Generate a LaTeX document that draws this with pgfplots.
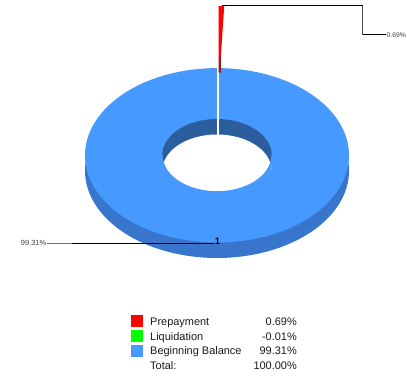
\documentclass[border=0pt]{standalone}
\usepackage{pgfplots}
\pgfplotsset{compat=1.18}
\usepackage{pgfplotstable}
\usepackage{fontspec}
\setmainfont{Liberation Sans}
\definecolor{topblue}{HTML}{4599FF}
\definecolor{sideblue}{HTML}{3776CC}
\definecolor{innerblue}{HTML}{2C5E9E}
\definecolor{darkred}{HTML}{A01414}
\definecolor{lbl}{HTML}{404040}
\definecolor{txt}{HTML}{1A1A1A}

\pgfplotstableread{
label value
Prepayment 0.69
Liquidation -0.01
{Beginning Balance} 99.31
}\piedata
\pgfplotstablegetelem{0}{value}\of\piedata
\pgfmathsetmacro\redA{3.6*\pgfplotsretval}

\def\cx{217}
\def\cy{155.3}
\def\Ro{132}
\def\Ryo{87.2}
\def\ri{54.7}
\def\ryi{36.3}
\def\dd{15.5}

\begin{document}
\begin{tikzpicture}
\begin{axis}[scale only axis, width=407bp, height=376bp,
  xmin=0, xmax=407, ymin=0, ymax=376, y dir=reverse,
  hide axis, clip=false, variable=\t]
% outer side wall
\addplot[draw=none, fill=sideblue, domain=0:360, samples=181]
  ({\cx+\Ro*sin(\t)},{\cy+\dd-\Ryo*cos(\t)});
% top face
\addplot[draw=none, fill=topblue, domain=0:360, samples=181]
  ({\cx+\Ro*sin(\t)},{\cy-\Ryo*cos(\t)});
% inner wall
\addplot[draw=none, fill=innerblue, domain=0:360, samples=181]
  ({\cx+\ri*sin(\t)},{\cy-\ryi*cos(\t)});
% see-through hole
\addplot[draw=none, fill=white, domain=0:360, samples=181]
  ({\cx+\ri*sin(\t)},{\cy+\dd-\ryi*cos(\t)});
% crescent of top face below the hole
\addplot[draw=topblue, line width=0.8bp, fill=topblue, domain=0:2, samples=201]
  ({\cx+\ri*sin(\t<=1 ? 90+180*\t : 450-180*\t)},
   {(\t<=1 ? \cy : \cy+\dd)-\ryi*cos(\t<=1 ? 90+180*\t : 450-180*\t)});
% separator
\addplot[white, line width=2.3bp] coordinates {(218,68)(218,134.5)};
% exploded red slice: inner wall
\addplot[draw=none, fill=darkred, domain=0:2, samples=41]
  ({\cx+1.5+\ri*sin(\t<=1 ? \redA*\t : \redA*(2-\t))},
   {(\t<=1 ? \cy-62 : \cy-62+\dd)-\ryi*cos(\t<=1 ? \redA*\t : \redA*(2-\t))});
% exploded red slice: top face
\addplot[draw=none, fill=red, domain=0:2, samples=41]
  ({\cx+1.5+(\t<=1 ? \Ro : \ri)*sin(\t<=1 ? \redA*\t : \redA*(2-\t))},
   {\cy-62-(\t<=1 ? \Ryo : \ryi)*cos(\t<=1 ? \redA*\t : \redA*(2-\t))});
% leader lines
\addplot[black, line width=1bp] coordinates {(221.5,6)(362.5,6)};
\addplot[black!70, line width=1bp] coordinates {(362.5,6)(362.5,35)};
\addplot[black, line width=1bp] coordinates {(362.5,35)(386,35)};
\addplot[black!55, line width=1bp] coordinates {(46.5,243)(72,243)};
\addplot[black, line width=1bp] coordinates {(72,243)(214,243)};
\node[anchor=base west, text=lbl, font=\fontsize{6.8}{9}\selectfont, inner sep=0pt] at (axis cs:386.5,37.4) {0.69\%};
\node[anchor=base east, text=lbl, font=\fontsize{7.5}{9}\selectfont, inner sep=0pt] at (axis cs:46.5,245.6) {99.31\%};
\node[anchor=base, font=\fontsize{9.5}{11}\bfseries, inner sep=0pt] at (axis cs:217.5,244) {1};
% legend
\addplot[only marks, mark=square*, mark size=5.5bp, red] coordinates {(136.5,321)};
\addplot[only marks, mark=square*, mark size=5.5bp, green] coordinates {(136.5,335.7)};
\addplot[only marks, mark=square*, mark size=5.5bp, topblue] coordinates {(136.5,350.4)};
\node[anchor=base west, text=txt, font=\fontsize{11}{13}\selectfont, inner sep=0pt] at (axis cs:150,325.3) {Prepayment};
\node[anchor=base west, text=txt, font=\fontsize{11}{13}\selectfont, inner sep=0pt] at (axis cs:150,340) {Liquidation};
\node[anchor=base west, text=txt, font=\fontsize{11}{13}\selectfont, inner sep=0pt] at (axis cs:150,354.7) {Beginning Balance};
\node[anchor=base west, text=txt, font=\fontsize{11}{13}\selectfont, inner sep=0pt] at (axis cs:150,369.4) {Total:};
\node[anchor=base east, text=txt, font=\fontsize{11}{13}\selectfont, inner sep=0pt] at (axis cs:297,325.3) {0.69\%};
\node[anchor=base east, text=txt, font=\fontsize{11}{13}\selectfont, inner sep=0pt] at (axis cs:297,340) {-0.01\%};
\node[anchor=base east, text=txt, font=\fontsize{11}{13}\selectfont, inner sep=0pt] at (axis cs:297,354.7) {99.31\%};
\node[anchor=base east, text=txt, font=\fontsize{11}{13}\selectfont, inner sep=0pt] at (axis cs:297,369.4) {100.00\%};
\end{axis}
\pgfresetboundingbox
\useasboundingbox (current axis.south west) rectangle (current axis.north east);
\end{tikzpicture}
\end{document}
